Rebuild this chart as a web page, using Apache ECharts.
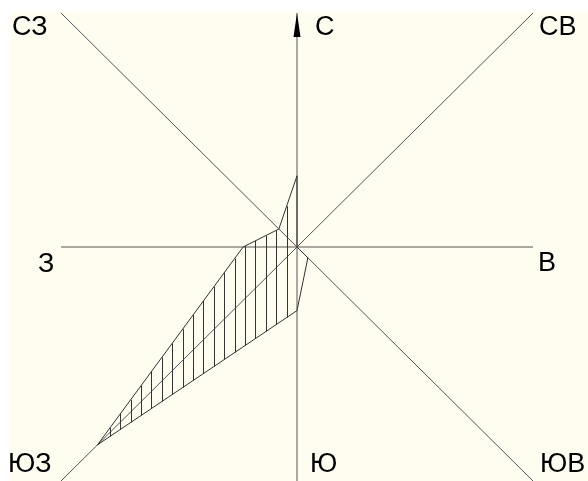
<!DOCTYPE html>
<html>
<head>
<meta charset="utf-8">
<script src="https://cdn.jsdelivr.net/npm/echarts@6/dist/echarts.min.js"></script>
<style>
  html, body { margin: 0; padding: 0; background: #fff; }
  #rose { width: 588px; height: 481px; }
</style>
</head>
<body>
<div id="rose"></div>
<script>
// румбы, по часовой стрелке от севера
const directions = ['С', 'СВ', 'В', 'ЮВ', 'Ю', 'ЮЗ', 'З', 'СЗ'];
// повторяемость ветра, %
const frequency = [14, 0, 0, 3, 12.5, 55, 10.5, 5];
const axisMax = 46;

// позиции подписей (px)
const labelPos = [
    [315, 28], [539, 28], [538, 264], [540, 465],
    [310, 465], [8, 465], [38, 265], [12, 28]
];

const hatchStep = 10.4; // шаг штриховки, px

let chart = echarts.init(document.getElementById('rose'));

function toXY(value, i) {
    let a = i * Math.PI / 4;
    return [value * Math.sin(a), value * Math.cos(a)];
}

function renderRose(params, api) {
    let children = [];
    let lineStyle = { stroke: '#555', lineWidth: 1 };
    // оси розы
    let axes = [
        [[-axisMax, 0], [axisMax, 0]],
        [[0, -axisMax], [0, axisMax]],
        [[-axisMax, -axisMax], [axisMax, axisMax]],
        [[-axisMax, axisMax], [axisMax, -axisMax]]
    ];
    axes.forEach(function (a) {
        let p1 = api.coord(a[0]), p2 = api.coord(a[1]);
        children.push({
            type: 'line',
            shape: { x1: p1[0], y1: p1[1], x2: p2[0], y2: p2[1] },
            style: lineStyle
        });
    });
    // стрелка на север
    let tip = api.coord([0, axisMax]);
    children.push({
        type: 'polygon',
        shape: { points: [[tip[0], tip[1]], [tip[0] - 3.5, tip[1] + 24], [tip[0] + 3.5, tip[1] + 24]] },
        style: { fill: '#000' }
    });

    // многоугольник розы
    let pts = frequency.map(function (v, i) { return api.coord(toXY(v, i)); });
    let center = api.coord([0, 0]);

    // штриховка вертикальными линиями
    let xs = pts.map(function (p) { return p[0]; });
    let minX = Math.min.apply(null, xs), maxX = Math.max.apply(null, xs);
    for (let k = -60; k <= 60; k++) {
        if (k === 0) continue;
        let x = center[0] + k * hatchStep;
        if (x <= minX || x >= maxX) continue;
        let ys = [];
        for (let j = 0; j < pts.length; j++) {
            let a = pts[j], b = pts[(j + 1) % pts.length];
            if ((a[0] - x) * (b[0] - x) < 0) {
                let t = (x - a[0]) / (b[0] - a[0]);
                ys.push(a[1] + t * (b[1] - a[1]));
            }
        }
        ys.sort(function (p, q) { return p - q; });
        for (let m = 0; m + 1 < ys.length; m += 2) {
            children.push({
                type: 'line',
                shape: { x1: Math.round(x) + 0.5, y1: ys[m], x2: Math.round(x) + 0.5, y2: ys[m + 1] },
                style: { stroke: '#333', lineWidth: 1 }
            });
        }
    }

    children.push({
        type: 'polygon',
        shape: { points: pts },
        style: { fill: 'none', stroke: '#333', lineWidth: 1 }
    });

    return { type: 'group', children: children };
}

let graphics = [{
    type: 'rect',
    left: 10, top: 12, z: -10,
    shape: { width: 578, height: 469 },
    style: { fill: '#fffcf0' }
}];
directions.forEach(function (d, i) {
    graphics.push({
        type: 'text',
        x: labelPos[i][0],
        y: labelPos[i][1],
        style: {
            text: d,
            fill: '#000',
            font: '27px "Liberation Sans", Arial, sans-serif',
            textVerticalAlign: 'middle'
        }
    });
});

let option = {
    animation: false,
    backgroundColor: '#fff',
    grid: { left: 61, width: 472, top: 13, height: 468 },
    xAxis: { type: 'value', min: -axisMax, max: axisMax, show: false },
    yAxis: { type: 'value', min: -axisMax, max: axisMax, show: false },
    graphic: graphics,
    series: [{
        type: 'custom',
        renderItem: renderRose,
        data: [[0, 0]],
        clip: false,
        silent: true
    }]
};
chart.setOption(option);
</script>
</body>
</html>
